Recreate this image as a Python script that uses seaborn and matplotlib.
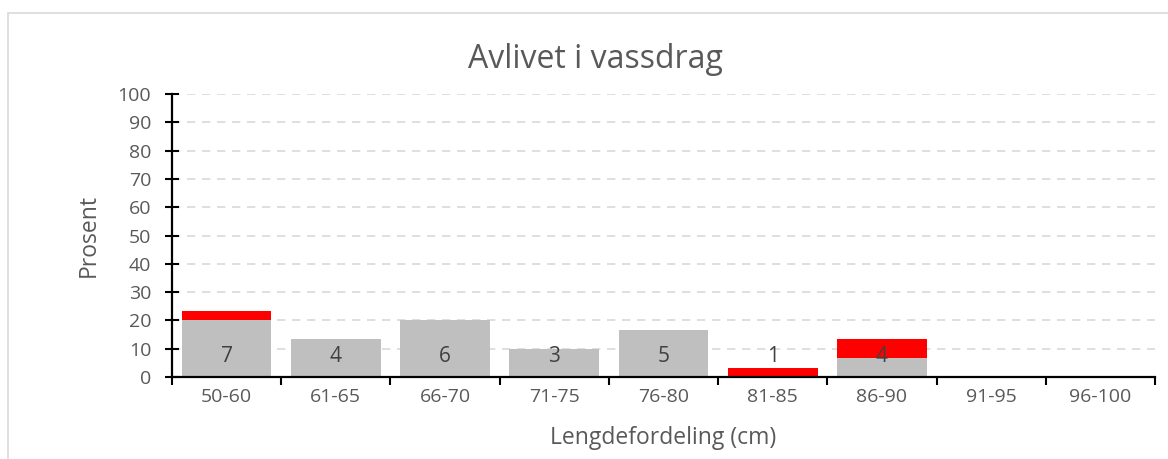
import matplotlib
matplotlib.use("Agg")
import matplotlib.pyplot as plt
import seaborn as sns
import pandas as pd
from matplotlib.patches import Rectangle

categories = ["50-60", "61-65", "66-70", "71-75", "76-80", "81-85", "86-90", "91-95", "96-100"]
gray_pct = [20.0, 13.33, 20.0, 10.0, 16.67, 0.0, 6.67, 0.0, 0.0]
red_pct = [3.33, 0.0, 0.0, 0.0, 0.0, 3.33, 6.67, 0.0, 0.0]
counts = ["7", "4", "6", "3", "5", "1", "4", "", ""]
yticks = [0, 10, 20, 30, 40, 50, 60, 70, 80, 90, 100]

sns.set_theme(style="white")
plt.rcParams["font.family"] = ["Open Sans", "DejaVu Sans"]

df = pd.DataFrame({"cat": categories, "gray": gray_pct, "red": red_pct})

fig = plt.figure(figsize=(11.68, 4.59), dpi=100)
fig.patches.append(Rectangle((8/1168, -0.1), 1.2, (459-13)/459 + 0.1,
                             transform=fig.transFigure, fill=False,
                             edgecolor="#d9d9d9", linewidth=1.2))
ax = fig.add_axes([172/1168, 1-377/459, (1155-172)/1168, (377-94)/459])

sns.barplot(data=df, x="cat", y="gray", color="#bfbfbf", width=0.82,
            saturation=1, ax=ax, zorder=2, linewidth=0)
sns.barplot(data=df, x="cat", y="red", bottom=df["gray"], color="#ff0000",
            width=0.82, saturation=1, ax=ax, zorder=2, linewidth=0)

for i, c in enumerate(counts):
    if c:
        ax.text(i, 7.3, c, ha="center", va="center", fontsize=15,
                color="#404040", zorder=3)

ax.set_xlim(-0.5, len(categories) - 0.5)
ax.set_ylim(0, 100)
ax.set_yticks(yticks)
ax.set_yticklabels([str(t) for t in yticks])
ax.yaxis.grid(True, linestyle=(0, (5, 4)), color="#d9d9d9", linewidth=1.2, zorder=0)
ax.set_axisbelow(True)

for s in ["top", "right"]:
    ax.spines[s].set_visible(False)
for s in ["left", "bottom"]:
    ax.spines[s].set_color("black")
    ax.spines[s].set_linewidth(1.6)

ax.tick_params(axis="y", direction="inout", length=10, width=1.5, color="black",
               labelsize=14, labelcolor="#595959", pad=10, left=True)
ax.set_xticks(range(len(categories)))
ax.set_xticklabels(categories)
ax.tick_params(axis="x", length=0, labelsize=14, labelcolor="#595959", pad=8)
ax.set_xticks([i - 0.5 for i in range(len(categories) + 1)], minor=True)
ax.tick_params(axis="x", which="minor", direction="out", length=6, width=1.5,
               color="black", bottom=True)

ax.set_xlabel("Lengdefordeling (cm)", fontsize=16.5, color="#595959", labelpad=14)
ax.set_ylabel("Prosent", fontsize=16.5, color="#595959", labelpad=12)
fig.text(595/1168, 1-60/459, "Avlivet i vassdrag", ha="center", va="center",
         fontsize=23, color="#595959")

fig.savefig("out.png", dpi=100, facecolor="white")
